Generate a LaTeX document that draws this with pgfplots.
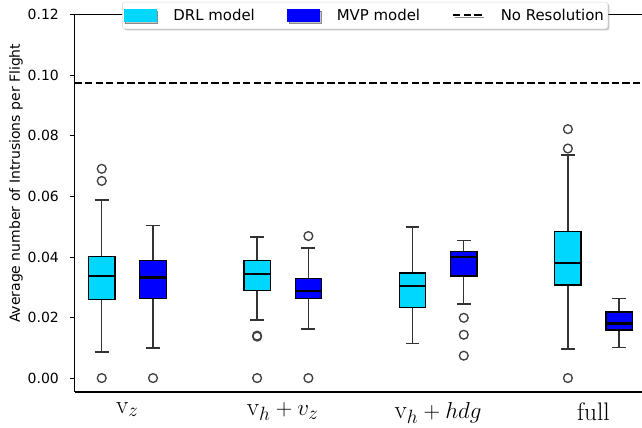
\documentclass[border=0pt]{standalone}
\usepackage{fontspec}
\setmainfont{DejaVu Sans}
\newfontfamily\lmr{Latin Modern Roman}
\usepackage{pgfplots}
\pgfplotsset{compat=1.18}
\usepgfplotslibrary{statistics}
\usetikzlibrary{shadows}
\definecolor{drl}{HTML}{00D7FF}
\definecolor{mvp}{HTML}{0000FF}
\pgfplotsset{
  /pgfplots/boxplot/draw direction=y,
  /pgfplots/boxplot/box extend=0.17,
  /pgfplots/boxplot/whisker extend=0.09,
  /pgfplots/boxplot/every median/.style={black, line width=1.6pt},
  /pgfplots/boxplot/every whisker/.style={black!80, line width=1pt},
  bxp/.style={black!80, line width=1pt, mark=o, mark size=3.3pt, mark options={black!75, line width=1pt, fill=none, solid}},
}
\begin{document}
\begin{tikzpicture}
\useasboundingbox (-55.9pt,-27pt) rectangle (425.6pt,294pt);
\begin{axis}[
  scale only axis, width=425.6pt, height=283pt,
  xmin=-0.34, xmax=3.312, ymin=-0.0046, ymax=0.12,
  axis x line=box, axis y line*=left,
  axis line style={black, line width=0.8pt},
  xtick={0,1,2,3},
  xticklabels={{\lmr v$_z$},{\lmr v$_h+v_z$},{\lmr v$_h+hdg$},{\lmr full}},
  xticklabel pos=lower,
  xtick style={draw=none},
  xticklabel style={font=\fontsize{19}{19}\selectfont, anchor=north, inner sep=0pt, yshift=-4pt},
  ytick={0,0.02,0.04,0.06,0.08,0.10,0.12},
  scaled y ticks=false,
  tick align=outside,
  ytick style={black, line width=0.6pt},
  major tick length=3.75pt,
  yticklabel style={font=\fontsize{10.5}{12}\selectfont, xshift=-4.5pt, /pgf/number format/.cd, fixed, fixed zerofill, precision=2, assume math mode=true},
  ylabel={Average number of Intrusions per Flight},
  ylabel style={font=\fontsize{10.5}{12}\selectfont, at={(axis description cs:-0.103,0.553)}, anchor=center, rotate=0},
  legend style={at={(axis description cs:0.512,1.034)}, anchor=north, legend columns=-1,
    draw=black!15, rounded corners=2pt, fill=white, font=\fontsize{11.2}{13}\selectfont,
    drop shadow={shadow xshift=1.2pt, shadow yshift=-1.2pt, opacity=0.45},
    inner xsep=1pt, inner ysep=3pt,
    /tikz/every odd column/.append style={column sep=11pt},
    /tikz/every even column/.append style={column sep=22pt}},
  clip=false,
]
\addlegendimage{legend image code/.code={\fill[drl, sharp corners] (0pt,-4.4pt) rectangle (24pt,4.4pt);}}
\addlegendentry{DRL model}
\addlegendimage{legend image code/.code={\fill[mvp, sharp corners] (0pt,-4.4pt) rectangle (24pt,4.4pt);}}
\addlegendentry{MVP model}
\addlegendimage{legend image code/.code={\draw[black, sharp corners, line width=1.5pt, dash pattern=on 5.5pt off 2.4pt] (0pt,0pt) -- (22pt,0pt);}}
\addlegendentry{No Resolution}

\addplot[black, line width=1.5pt, dash pattern=on 5.5pt off 2.4pt] coordinates {(-0.34,0.0975) (3.312,0.0975)};

% v_z
\addplot[bxp,
  boxplot prepared={draw position=-0.165, lower whisker=0.0086, lower quartile=0.0259, median=0.0338, upper quartile=0.0401, upper whisker=0.0588,
  every box/.style={draw=black, line width=0.9pt, fill=drl}}]
  table[row sep=\\, y index=0] {data\\ 0.0691\\ 0.0651\\ 0\\};
\addplot[bxp,
  boxplot prepared={draw position=0.165, lower whisker=0.0099, lower quartile=0.0262, median=0.0332, upper quartile=0.0387, upper whisker=0.0504,
  every box/.style={draw=black, line width=0.9pt, fill=mvp}}]
  table[row sep=\\, y index=0] {data\\ 0\\};
% v_h + v_z
\addplot[bxp,
  boxplot prepared={draw position=0.835, lower whisker=0.0192, lower quartile=0.0289, median=0.0343, upper quartile=0.0388, upper whisker=0.0466,
  every box/.style={draw=black, line width=0.9pt, fill=drl}}]
  table[row sep=\\, y index=0] {data\\ 0.0140\\ 0.0137\\ 0\\};
\addplot[bxp,
  boxplot prepared={draw position=1.165, lower whisker=0.0162, lower quartile=0.0262, median=0.0287, upper quartile=0.0328, upper whisker=0.0430,
  every box/.style={draw=black, line width=0.9pt, fill=mvp}}]
  table[row sep=\\, y index=0] {data\\ 0.0469\\ 0\\};
% v_h + hdg
\addplot[bxp,
  boxplot prepared={draw position=1.835, lower whisker=0.0115, lower quartile=0.0234, median=0.0305, upper quartile=0.0347, upper whisker=0.0499,
  every box/.style={draw=black, line width=0.9pt, fill=drl}}]
  coordinates {};
\addplot[bxp,
  boxplot prepared={draw position=2.165, lower whisker=0.0245, lower quartile=0.0337, median=0.0401, upper quartile=0.0418, upper whisker=0.0455,
  every box/.style={draw=black, line width=0.9pt, fill=mvp}}]
  table[row sep=\\, y index=0] {data\\ 0.0199\\ 0.0143\\ 0.0074\\};
% full
\addplot[bxp,
  boxplot prepared={draw position=2.835, lower whisker=0.0096, lower quartile=0.0307, median=0.0379, upper quartile=0.0483, upper whisker=0.0737,
  every box/.style={draw=black, line width=0.9pt, fill=drl}}]
  table[row sep=\\, y index=0] {data\\ 0.0822\\ 0.0758\\ 0\\};
\addplot[bxp,
  boxplot prepared={draw position=3.165, lower whisker=0.0100, lower quartile=0.0159, median=0.0180, upper quartile=0.0218, upper whisker=0.0262,
  every box/.style={draw=black, line width=0.9pt, fill=mvp}}]
  coordinates {};
\end{axis}
\end{tikzpicture}
\end{document}
